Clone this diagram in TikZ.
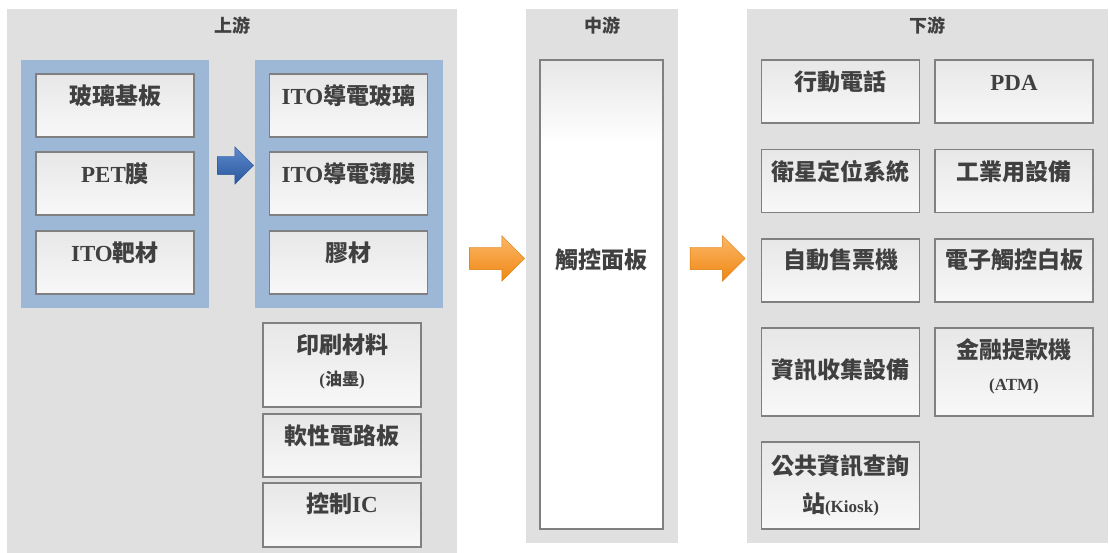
\documentclass[tikz,border=0pt]{standalone}
\usepackage{fontspec}
\setmainfont{Liberation Serif}
\newfontfamily\cjk{Noto Sans CJK TC}
\usetikzlibrary{shapes,arrows,positioning}

\definecolor{panelgray}{RGB}{224,224,224}
\definecolor{holderblue}{RGB}{157,183,214}
\definecolor{boxline}{RGB}{128,128,128}
\definecolor{boxtop}{RGB}{231,231,231}
\definecolor{boxbot}{RGB}{248,248,248}
\definecolor{txt}{RGB}{64,64,64}
\definecolor{bluetop}{RGB}{92,138,204}
\definecolor{bluebot}{RGB}{42,86,156}
\definecolor{orangetop}{RGB}{251,182,104}
\definecolor{orangebot}{RGB}{240,136,18}

\newcommand{\zh}[1]{{\cjk #1}}
\newcommand{\subtxt}{\fontsize{17}{20}\selectfont}

\pgfdeclareverticalshading{midfade}{100bp}{color(0bp)=(white); color(66bp)=(white); color(75bp)=(boxtop); color(100bp)=(boxtop)}

\tikzset{
  panel/.style={fill=panelgray, inner sep=0pt},
  holder/.style={fill=holderblue, inner sep=0pt},
  title/.style={text=txt, font=\fontsize{18}{22}\selectfont\bfseries},
  item/.style={draw=boxline, line width=1.2pt, top color=boxtop, bottom color=boxbot,
    text=txt, font=\fontsize{23}{28}\selectfont\bfseries, inner xsep=0pt, inner ysep=0pt,
    minimum width=158pt, text height=31pt, text depth=32pt},
  bluearrow/.style={single arrow, draw=bluebot, top color=bluetop, bottom color=bluebot,
    inner xsep=0pt, inner ysep=9pt, minimum height=36pt, minimum width=37pt,
    single arrow head extend=9.5pt},
  orangearrow/.style={single arrow, draw=orangebot!90!black, top color=orangetop, bottom color=orangebot,
    inner xsep=0pt, inner ysep=11pt, minimum height=55pt, minimum width=45pt,
    single arrow head extend=11.5pt}
}

\begin{document}
\begin{tikzpicture}[x=1pt, y=-1pt]
\useasboundingbox (0,0) rectangle (1109,553);
% panels
\node[panel, minimum width=450pt, minimum height=544pt] (up) at (232,281) {};
\node[panel, minimum width=152pt, minimum height=534pt] (mid) at (602,276) {};
\node[panel, minimum width=361pt, minimum height=534pt] (down) at (927.5,276) {};
\node[title] (uptitle) at (232,26) {\zh{上游}};
\node[title] (midtitle) at (602,26) {\zh{中游}};
\node[title] (downtitle) at (927.5,26) {\zh{下游}};
% upstream
\node[holder, minimum width=188pt, minimum height=248pt] (rawl) at (115,184) {};
\node[holder, minimum width=188pt, minimum height=248pt] (rawr) at (349,184) {};
\node[item] (glass) at (115,105.5) {\zh{玻璃基板}};
\node[item] (pet) at (115,183.5) {PET\zh{膜}};
\node[item] (target) at (115,262.5) {ITO\zh{靶材}};
\node[item] (itoglass) at (348.5,105.5) {ITO\zh{導電玻璃}};
\node[item] (itofilm) at (348.5,183.5) {ITO\zh{導電薄膜}};
\node[item] (glue) at (348.5,262.5) {\zh{膠材}};
\node[item, text depth=53pt] (ink) at (342,365)
  {\begin{tabular}[t]{@{}c@{}}\zh{印刷材料}\\[4pt]{\subtxt (\zh{油墨})}\end{tabular}};
\node[item, text height=30pt, text depth=33pt] (fpc) at (342,445.5) {\zh{軟性電路板}};
\node[item, text height=29pt, text depth=35pt] (ic) at (342,515) {\zh{控制}IC};
\node[bluearrow] (blue) at (231,165.5) {};
% midstream
\node[item, minimum width=123pt, shading=midfade, text height=209pt, text depth=260pt] (touch) at (601.5,294.5) {\zh{觸控面板}};
\node[orangearrow] (toMid) at (491.5,258.5) {};
\node[orangearrow] (toDown) at (712,258.5) {};
% downstream
\node[item] (phone) at (840.5,91.5) {\zh{行動電話}};
\node[item] (pda) at (1014,91.5) {PDA};
\node[item] (gps) at (840.5,181) {\zh{衛星定位系統}};
\node[item] (industry) at (1014,181) {\zh{工業用設備}};
\node[item, text height=30pt, text depth=33pt] (ticket) at (840.5,270.5) {\zh{自動售票機}};
\node[item, text height=30pt, text depth=33pt] (board) at (1014,270.5) {\zh{電子觸控白板}};
\node[item, text height=51pt, text depth=37pt] (collect) at (840.5,372) {\zh{資訊收集設備}};
\node[item, text depth=57pt] (atm) at (1014,372)
  {\begin{tabular}[t]{@{}c@{}}\zh{金融提款機}\\[4pt]{\subtxt (ATM)}\end{tabular}};
\node[item, text height=32pt, text depth=55pt] (kiosk) at (840.5,485.5)
  {\begin{tabular}[t]{@{}c@{}}\zh{公共資訊查詢}\\[10pt]\zh{站}{\subtxt (Kiosk)}\end{tabular}};
\end{tikzpicture}
\end{document}
